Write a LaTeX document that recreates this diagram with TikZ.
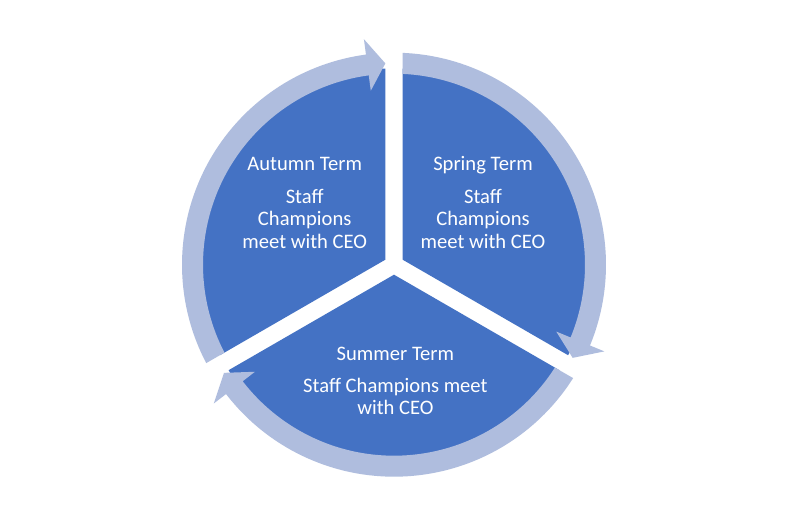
\documentclass[tikz,border=0pt]{standalone}
\usepackage{fontspec}
\setmainfont{Carlito}
\definecolor{pieblue}{RGB}{68,114,196}
\definecolor{ringblue}{RGB}{175,189,222}
\newcommand\pieSector[1]{%
  \fill[pieblue] (#1:10bp) -- ++({#1-60}:191bp) arc[start angle={#1-60}, end angle={#1+60}, radius=191bp] -- cycle;}
\newcommand\ringArrow[1]{%
  \fill[ringblue] ({#1-2.34}:212bp) arc[start angle={#1-2.34}, end angle={#1-112.4}, radius=212bp]
    -- ({#1-112.4}:227.5bp) -- ({#1-117.54}:201.5bp) -- ({#1-112.4}:175.5bp)
    -- ({#1-112.4}:191bp) arc[start angle={#1-112.4}, end angle={#1-2.6}, radius=191bp] -- cycle;}
\tikzset{
  lbl/.style={anchor=base, text=white, inner sep=0pt, font=\fontsize{20.6bp}{24bp}\selectfont}
}
\begin{document}
\begin{tikzpicture}
\useasboundingbox (0,0) rectangle (789bp,532bp);
\fill[white] (0,0) rectangle (789bp,532bp);
\begin{scope}[shift={(394bp,267.3bp)}]
  \pieSector{30}
  \pieSector{150}
  \pieSector{270}
  \ringArrow{210}
  \ringArrow{90}
  \ringArrow{-30}
\end{scope}
% Autumn
\node[lbl] (a1) at (304.7bp,361.3bp) {Autumn Term};
\node[lbl] (a2) at (304.7bp,328.7bp) {Staff};
\node[lbl] (a3) at (304.7bp,306.2bp) {Champions};
\node[lbl] (a4) at (304.7bp,283.7bp) {meet with CEO};
% Spring
\node[lbl] (s1) at (483bp,361.3bp) {Spring Term};
\node[lbl] (s2) at (483bp,328.7bp) {Staff};
\node[lbl] (s3) at (483bp,306.2bp) {Champions};
\node[lbl] (s4) at (483bp,283.7bp) {meet with CEO};
% Summer
\node[lbl] (u1) at (395.4bp,171bp) {Summer Term};
\node[lbl] (u2) at (395.4bp,139.7bp) {Staff Champions meet};
\node[lbl] (u3) at (395.4bp,117bp) {with CEO};
\end{tikzpicture}
\end{document}
